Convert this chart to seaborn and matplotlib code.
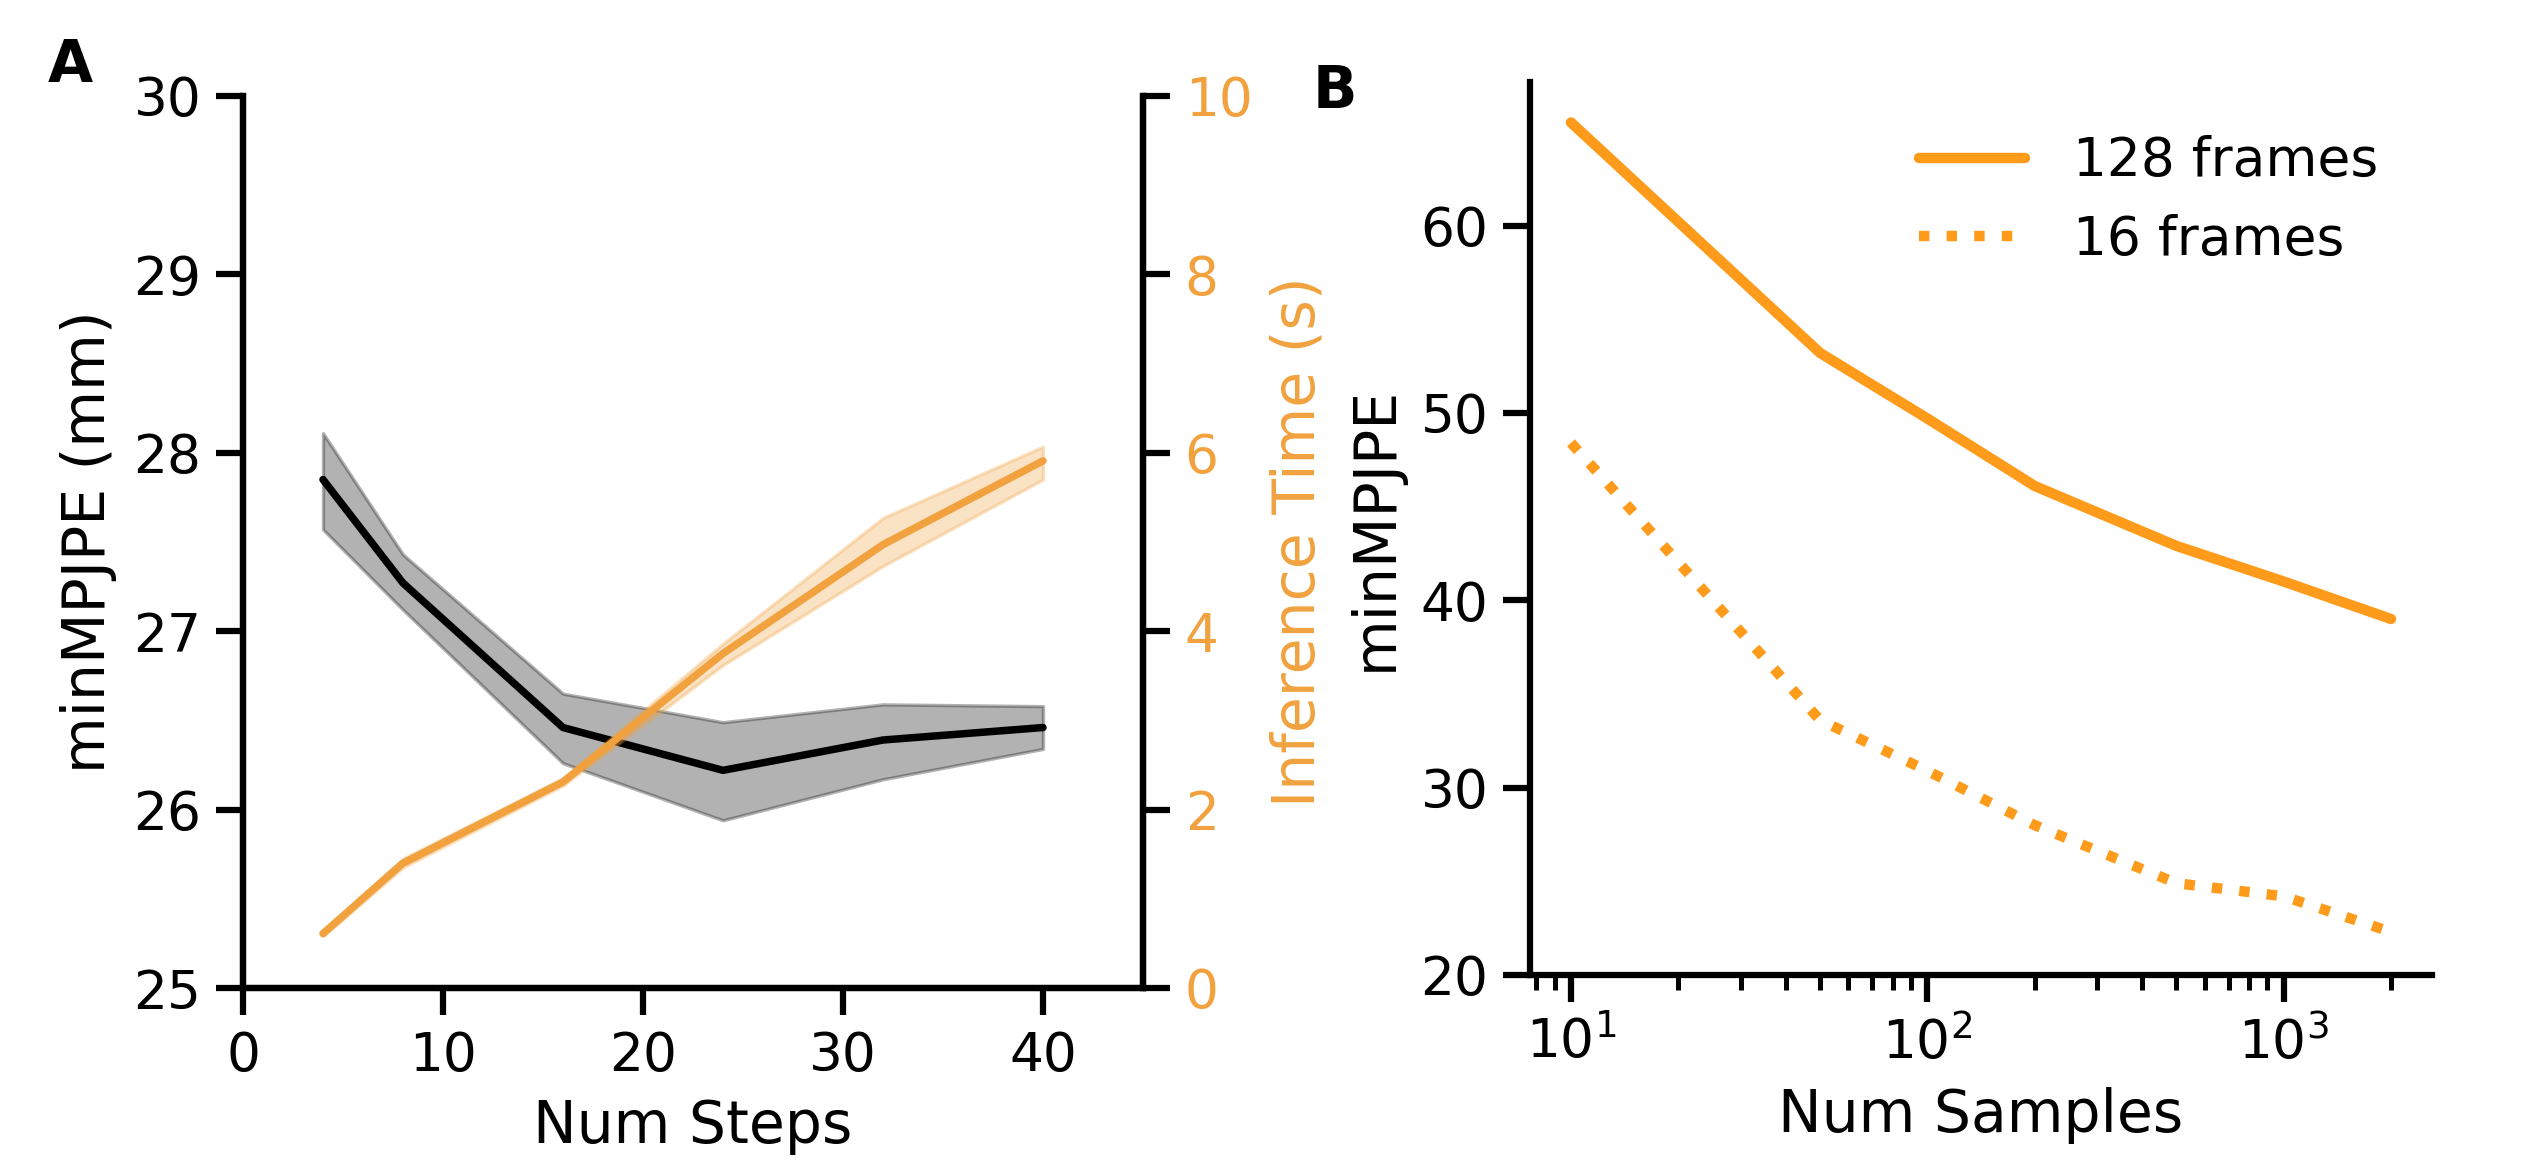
import numpy as np
import pandas as pd
import matplotlib
matplotlib.use("Agg")
import matplotlib.pyplot as plt
import seaborn as sns

# Panel A: number of diffusion steps vs error / inference time
steps = [4, 8, 16, 24, 32, 40]
err_mean = [27.85, 27.27, 26.46, 26.22, 26.39, 26.46]
err_upper = [28.11, 27.43, 26.65, 26.49, 26.59, 26.58]
err_lower = [27.57, 27.12, 26.26, 25.94, 26.17, 26.34]
time_mean = [0.61, 1.40, 2.31, 3.75, 4.97, 5.91]
time_upper = [0.64, 1.45, 2.35, 3.86, 5.27, 6.07]
time_lower = [0.58, 1.35, 2.27, 3.62, 4.73, 5.70]

# Panel B: number of samples vs minMPJPE
samples = [10, 50, 100, 200, 500, 1000, 2000]
mpjpe_128 = [65.5, 53.2, 49.7, 46.1, 42.9, 41.0, 39.0]
mpjpe_16 = [48.4, 33.6, 30.9, 28.0, 24.9, 24.2, 22.3]

ORANGE_A = "#f1a23f"
ORANGE_B = "#ff9b1a"

sns.set_style("ticks")
plt.rcParams["font.family"] = ["DejaVu Sans"]
plt.rcParams["axes.linewidth"] = 1.5
plt.rcParams["xtick.major.width"] = 1.5
plt.rcParams["ytick.major.width"] = 1.5
plt.rcParams["xtick.minor.width"] = 1.2
plt.rcParams["xtick.major.size"] = 6.5
plt.rcParams["ytick.major.size"] = 6.5
plt.rcParams["xtick.minor.size"] = 3.5
plt.rcParams["axes.edgecolor"] = "black"
plt.rcParams["xtick.color"] = "black"
plt.rcParams["ytick.color"] = "black"
plt.rcParams["text.color"] = "black"
plt.rcParams["axes.labelcolor"] = "black"

TICK_FS = 12.8
LABEL_FS = 14

fig = plt.figure(figsize=(2522 / 300, 1172 / 300), dpi=300)
ax1 = fig.add_axes([0.09635, 0.1570, 0.35686, 0.7611])
ax3 = fig.add_axes([0.60666, 0.16809, 0.35765, 0.76195])

# ---- Panel A ----
sns.lineplot(x=steps, y=err_mean, ax=ax1, color="black", lw=1.8, errorbar=None)
ax1.fill_between(steps, err_lower, err_upper, color="black", alpha=0.3, lw=0.8)
ax1.set_xlim(0, 45)
ax1.set_ylim(25, 30)
ax1.set_xticks([0, 10, 20, 30, 40])
ax1.set_yticks([25, 26, 27, 28, 29, 30])
ax1.set_xlabel("Num Steps", fontsize=LABEL_FS)
ax1.set_ylabel("minMPJPE (mm)", fontsize=LABEL_FS)
ax1.tick_params(labelsize=TICK_FS)
ax1.spines["top"].set_visible(False)

ax2 = ax1.twinx()
sns.lineplot(x=steps, y=time_mean, ax=ax2, color=ORANGE_A, lw=1.8, errorbar=None)
ax2.fill_between(steps, time_lower, time_upper, color=ORANGE_A, alpha=0.3, lw=0.8)
ax2.set_ylim(0, 10)
ax2.set_yticks([0, 2, 4, 6, 8, 10])
ax2.set_ylabel("Inference Time (s)", fontsize=LABEL_FS, color=ORANGE_A)
ax2.tick_params(axis="y", labelsize=TICK_FS, colors="black")
ax2.tick_params(axis="y", labelcolor=ORANGE_A)
ax2.spines["top"].set_visible(False)
ax2.spines["right"].set_color("black")

# ---- Panel B ----
sns.lineplot(x=samples, y=mpjpe_128, ax=ax3, color=ORANGE_B, lw=2.5,
             label="128 frames", errorbar=None)
sns.lineplot(x=samples, y=mpjpe_16, ax=ax3, color=ORANGE_B, lw=2.5,
             linestyle=":", label="16 frames", errorbar=None)
ax3.set_xscale("log")
ax3.set_yticks([20, 30, 40, 50, 60])
ax3.set_xlabel("Num Samples", fontsize=LABEL_FS)
ax3.set_ylabel("minMPJPE", fontsize=LABEL_FS)
ax3.tick_params(labelsize=TICK_FS)
sns.despine(ax=ax3)
ax3.legend(frameon=False, fontsize=12.8, handlelength=2.0, loc="upper right",
           borderaxespad=0.6, handletextpad=0.9)

# panel letters
fig.text(48 / 2522, 1 - 82 / 1172, "A", fontsize=14, fontweight="heavy", color="black")
fig.text(1313 / 2522, 1 - 108 / 1172, "B", fontsize=14, fontweight="heavy", color="black")

fig.savefig("out.png", dpi=300)
